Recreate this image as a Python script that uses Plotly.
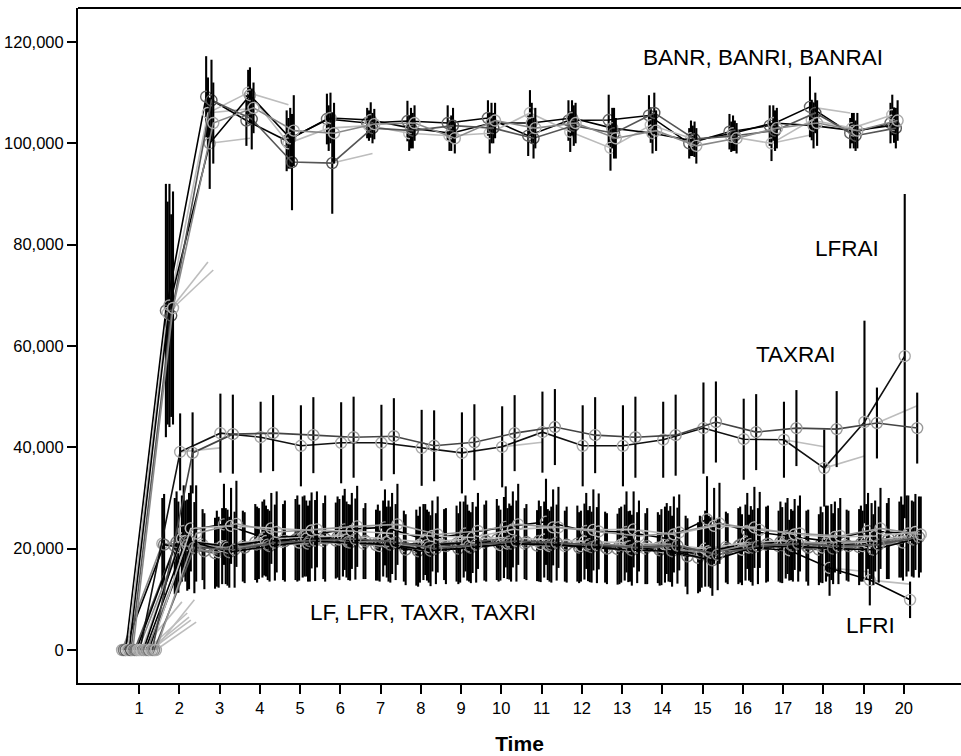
import plotly.graph_objects as go

# ---------------- data (values in thousands) ----------------
times = list(range(1, 21))
y_ticks = [0, 20000, 40000, 60000, 80000, 100000, 120000]

banr_a = [0, 67, 109.2, 104.5, 100.5, 104.8, 104, 104.4, 104, 105, 101.5, 104.5, 104.6, 105.5, 100, 102.3, 103.5, 107.2, 102, 104]
banr_a_err = [0, 25, 8, 5, 6, 5, 3, 4, 3.5, 3.5, 4, 4, 5, 4, 3, 3.5, 4, 6, 3, 4]
banr_b = [0, 66.5, 106, 110, 100, 103, 103.5, 102, 101.5, 102, 106, 102.3, 99.1, 103.6, 101, 101.3, 100, 104.6, 103, 105.6]
banr_b_err = [0, 22, 7, 4.5, 5, 4.5, 3, 3.5, 3, 4, 4.5, 4, 4.5, 3.5, 3.5, 3, 3.5, 4, 3, 4]
banri_a = [0, 68, 100, 109.5, 101, 105, 104.6, 103, 102, 104, 104, 105, 103, 102, 100.5, 102, 104, 103.5, 102.5, 103.6]
banri_a_err = [0, 24, 9, 5.5, 6, 5, 3.5, 4, 3.5, 4, 4, 3.5, 4, 4, 3, 3.5, 3.5, 4.5, 3.5, 3.5]
banri_b = [0, 66, 108.5, 104.8, 96.3, 96.1, 103, 102.5, 103.5, 103, 101, 103.5, 102, 106, 100.8, 101.5, 102.5, 106, 101.5, 103]
banri_b_err = [0, 20, 8, 6, 9.5, 10, 3, 3.5, 3.5, 3, 4, 4, 5, 4, 3.5, 3, 4, 4, 3, 4]
banrai = [0, 67.5, 104, 107, 102.5, 102, 103.8, 104, 101, 104.5, 103, 104, 101, 102.5, 99.5, 101, 103, 104, 102.5, 104.5]
banrai_err = [0, 23, 8, 5, 7, 6, 3, 3.5, 3, 3.5, 4, 4, 4, 4, 3.5, 3, 4, 4.5, 3.5, 4]

lfrai = [0, 39.1, 42.8, 42, 40.3, 40.9, 40.9, 39.9, 38.9, 40.1, 43, 40.3, 40.3, 41.5, 43.8, 41.6, 41.5, 35.9, 45, 58]
lfrai_err = [0, 7.6, 7.8, 7, 8, 8, 7.5, 7.5, 8, 8, 8, 8, 8, 7.5, 9, 8, 7.5, 7.6, 20, 32]
taxrai = [0, 38.9, 42.6, 42.8, 42.4, 42, 42.2, 40.3, 41, 42.8, 44, 42.4, 42, 42.4, 45, 43, 43.8, 43.6, 44.8, 43.8]
taxrai_err = [0, 8, 7.8, 7.5, 7.5, 8, 7.5, 7, 7.5, 7.5, 7.5, 7.5, 8, 8, 8, 7.5, 7.5, 7.5, 7, 7]
lfri = [0, 21.5, 20.5, 21.5, 22, 21.8, 21.3, 20.7, 21.2, 21, 20.8, 20.6, 20.4, 20.5, 19.5, 20.2, 19.7, 16.2, 13.8, 9.9]
lfri_err = [0, 8, 7.5, 7, 7.5, 7.5, 7, 7, 7.5, 7, 7, 7, 7, 7, 7, 6.5, 6, 5.5, 5, 3.6]

lf_a = [0, 23.5, 24.8, 22.2, 22.5, 23.8, 24.2, 21.8, 23, 24.3, 25.3, 23.5, 23.3, 22, 25.8, 23.5, 22.5, 21.5, 23.5, 23]
lf_a_err = [0, 9, 8, 7.5, 8, 8, 7.5, 7, 7.5, 8, 8.5, 7.5, 8, 7, 8.5, 7.5, 7.5, 7, 7.5, 7.5]
lf_b = [0, 24, 24.5, 24, 23.6, 23.5, 23, 22.5, 22.2, 23.8, 24.2, 23.7, 23.8, 22.8, 24.5, 24.2, 22.8, 22.3, 22.5, 23.3]
lf_b_err = [0, 8.5, 7.5, 7, 7.5, 7.5, 8, 7, 7, 7.5, 7.5, 8, 7.5, 7.5, 7.5, 8, 7, 7, 7, 7.5]
lf_c = [0, 23, 24.9, 23.3, 23.8, 24.4, 24.8, 22.8, 23.5, 24.8, 24.2, 23.4, 22.5, 23.2, 25, 23.7, 23, 22.5, 24, 22.8]
lf_c_err = [0, 9.5, 8.5, 8, 7.5, 8, 8, 7.5, 7.5, 8, 8, 7.5, 7, 7.5, 8, 7.5, 7.5, 7.5, 8, 7.5]
lfr_a = [0, 21, 20.8, 20.5, 21.3, 21.5, 21, 20.5, 20.8, 21.2, 21, 20.5, 20.3, 20, 19.5, 20.3, 20.8, 20.5, 20.7, 21.5]
lfr_a_err = [0, 9, 7, 7, 7.5, 7.5, 7, 7, 7, 7.5, 7, 7, 7, 7, 7, 7, 7.5, 7, 7, 7.5]
lfr_b = [0, 20.8, 19.5, 20.2, 21.5, 22, 21.5, 19.8, 20.5, 21.5, 21.3, 20.8, 20, 20.5, 18.5, 20, 21, 20.2, 20.5, 22]
lfr_b_err = [0, 10, 7.5, 7, 8, 8.5, 7.5, 7, 7.5, 8, 7.5, 7.5, 7, 7.5, 7.5, 7, 7.5, 7.5, 7, 8]
taxr_a = [0, 20.5, 19.1, 21.3, 21.8, 21.6, 20.7, 20.2, 21, 21.8, 20.6, 21, 19.9, 20.2, 18.2, 20.5, 20.5, 19.8, 20.3, 21.8]
taxr_a_err = [0, 9.5, 7, 7.5, 8, 7.5, 7, 7.5, 7.5, 8, 7, 7.5, 7, 7, 7, 7.5, 7, 7, 7.5, 7.5]
taxr_b = [0, 21.3, 20, 20.8, 22, 22.3, 21.2, 19.5, 20, 21, 21.5, 20.2, 20.5, 19.7, 19, 20.8, 21.3, 20.8, 21, 22.3]
taxr_b_err = [0, 10, 7.5, 7.5, 8.5, 8, 7.5, 7, 7, 7.5, 8, 7, 7.5, 7, 7.5, 7.5, 8, 7.5, 7.5, 8]
taxr_c = [0, 20.3, 19.3, 21, 21.2, 21.8, 20.5, 20.8, 21.3, 20.7, 20.9, 20.5, 20.8, 20.3, 19.3, 19.8, 20.7, 20.2, 20.5, 21.2]
taxr_c_err = [0, 9, 7, 7, 7.5, 8, 7, 7.5, 8, 7, 7.5, 7, 7.5, 7.5, 7, 7, 7.5, 7, 7, 7.5]
taxri_a = [0, 22, 20.5, 21.8, 22.3, 22.5, 22, 21.3, 21.8, 22.2, 21.8, 21.4, 21.2, 20.8, 20, 21.2, 21.6, 21, 21.3, 22.5]
taxri_a_err = [0, 8.5, 7.5, 7.5, 8, 8, 7.5, 7.5, 7.5, 8, 7.5, 7.5, 7.5, 7.5, 7.5, 7.5, 7.5, 7.5, 7.5, 8]
taxri_b = [0, 21.5, 19.3, 20.5, 21.5, 21.2, 20.8, 19.6, 20.2, 21, 20.8, 20.3, 19.7, 19.5, 17.7, 20.2, 20.5, 20, 19.8, 21.8]
taxri_b_err = [0, 9.5, 7, 7, 8, 7.5, 7.5, 7, 7, 7.5, 7.5, 7, 7, 7, 7, 7.5, 7, 7, 7, 7.5]
taxri_c = [0, 20.2, 19.8, 21.2, 21.6, 21.9, 21.3, 20, 20.8, 21.5, 21.2, 20.7, 20.2, 20.6, 18.8, 20.5, 21, 20.5, 20.8, 22.3]
taxri_c_err = [0, 9, 7.5, 7.5, 8, 8, 7.5, 7, 7.5, 8, 7.5, 7.5, 7, 7.5, 7, 7.5, 7.5, 7.5, 7.5, 8]
lf_d = [0, 20.7, 20.2, 20.8, 21, 21.3, 21.5, 20.3, 20.5, 21.4, 20.5, 20.9, 20.5, 20.9, 19.2, 20.9, 20.8, 21.3, 21.5, 22]
lf_d_err = [0, 9, 7.5, 7, 7.5, 7.5, 8, 7, 7, 7.5, 7, 7.5, 7, 7.5, 7, 7.5, 7, 7.5, 7.5, 7.5]

# short unmarked segments: (start time, value reached one step later)
banr_b_ghost = [(2, 76.6), (3, 106.8), (4, 107.6), (17, 101.7)]
banri_a_ghost = [(3, 101)]
banri_b_ghost = [(6, 98)]
banrai_ghost = [(2, 75)]
banr_a_ghost = [(18, 106)]
lfrai_ghost = [(2, 39.9), (10, 41), (17, 40.1), (18, 38.3)]
taxrai_ghost = [(19, 48.2)]
lfri_ghost = [(18, 15.4), (19, 13.0)]
taxri_a_ghost = [(1, 9.5)]
lf_d_ghost = [(1, 7.3)]
taxri_b_ghost = [(1, 6.5)]
taxri_c_ghost = [(1, 9.9)]
lf_c_ghost = [(1, 5.5)]
lf_b_ghost = [(1, 5.9)]

labels = ["BANR, BANRI, BANRAI", "LFRAI", "TAXRAI", "LF, LFR, TAXR, TAXRI", "LFRI"]
label_t = [16.5, 18.59, 17.32, 8.05, 19.16]
label_v = [117000, 79300, 58400, 7500, 4900]

# ---------------- styling ----------------
K = 1000
series = [
    # name, mean, err, ghost, slot, line colour, marker colour
    ("LFR a", lfr_a, lfr_a_err, None, 0, "#888888", "#aaaaaa"),
    ("LFR b", lfr_b, lfr_b_err, None, 1, "#000000", "#777777"),
    ("BANR a", banr_a, banr_a_err, banr_a_ghost, 2, "#000000", "#666666"),
    ("BANR b", banr_b, banr_b_err, banr_b_ghost, 3, "#bbbbbb", "#bbbbbb"),
    ("BANRI a", banri_a, banri_a_err, banri_a_ghost, 4, "#000000", "#999999"),
    ("BANRI b", banri_b, banri_b_err, banri_b_ghost, 5, "#555555", "#555555"),
    ("BANRAI", banrai, banrai_err, banrai_ghost, 6, "#888888", "#aaaaaa"),
    ("TAXR a", taxr_a, taxr_a_err, None, 7, "#555555", "#888888"),
    ("TAXR b", taxr_b, taxr_b_err, None, 8, "#000000", "#777777"),
    ("TAXR c", taxr_c, taxr_c_err, None, 9, "#888888", "#aaaaaa"),
    ("LFRAI", lfrai, lfrai_err, lfrai_ghost, 10, "#111111", "#aaaaaa"),
    ("TAXRI a", taxri_a, taxri_a_err, taxri_a_ghost, 11, "#bbbbbb", "#bbbbbb"),
    ("LF a", lf_a, lf_a_err, None, 12, "#000000", "#999999"),
    ("LFRI", lfri, lfri_err, lfri_ghost, 13, "#000000", "#aaaaaa"),
    ("LF d", lf_d, lf_d_err, lf_d_ghost, 14, "#888888", "#999999"),
    ("TAXRI b", taxri_b, taxri_b_err, taxri_b_ghost, 15, "#000000", "#777777"),
    ("LF b", lf_b, lf_b_err, lf_b_ghost, 16, "#bbbbbb", "#bbbbbb"),
    ("TAXRAI", taxrai, taxrai_err, taxrai_ghost, 17, "#444444", "#999999"),
    ("TAXRI c", taxri_c, taxri_c_err, taxri_c_ghost, 18, "#555555", "#888888"),
    ("LF c", lf_c, lf_c_err, lf_c_ghost, 19, "#999999", "#aaaaaa"),
]

def slot_offset(k):
    return -0.42 + k * (0.84 / 19)

fig = go.Figure()

# ghost segments (drawn first, underneath)
for name, mean, err, ghost, k, lc, mc in series:
    if not ghost:
        continue
    off = slot_offset(k)
    gx, gy = [], []
    for t, v in ghost:
        i = times.index(t)
        gx += [t + off, t + 1 + off, None]
        gy += [mean[i] * K, v * K, None]
    fig.add_trace(go.Scatter(x=gx, y=gy, mode="lines", showlegend=False,
                             line=dict(color="#bdbdbd", width=1.6), hoverinfo="skip"))

for name, mean, err, ghost, k, lc, mc in series:
    off = slot_offset(k)
    xs = [t + off for t in times]
    ys = [v * K for v in mean]
    es = [e * K for e in err]
    fig.add_trace(go.Scatter(
        x=xs, y=ys, name=name, mode="lines+markers", showlegend=False,
        line=dict(color=lc, width=1.6),
        marker=dict(symbol="circle-open", size=11, color=mc, line=dict(width=1.4)),
        error_y=dict(type="data", array=es, visible=True, color="#000000",
                     thickness=2.1, width=0),
    ))

for txt, t, v in zip(labels, label_t, label_v):
    fig.add_annotation(x=t, y=v, text=txt, showarrow=False,
                       font=dict(size=22.5, color="#000000", family="Liberation Sans, Arial"))

# top frame line (no right border in the original)
fig.add_shape(type="line", xref="paper", yref="paper", x0=0, x1=1, y0=1, y1=1,
              line=dict(color="#000000", width=2))

fig.update_layout(
    width=961, height=756,
    margin=dict(l=78, r=0, t=8, b=73),
    plot_bgcolor="white", paper_bgcolor="white",
    font=dict(family="Liberation Sans, Arial", color="#000000", size=16.5),
    showlegend=False,
)
fig.update_xaxes(
    range=[-0.515, 21.42], tickmode="array", tickvals=times,
    ticktext=[str(t) for t in times],
    ticks="outside", ticklen=9, tickwidth=1.6, tickcolor="#000000",
    showline=True, linewidth=2, linecolor="#000000", mirror=False,
    showgrid=False, zeroline=False,
    tickfont=dict(size=16.5),
    title=dict(text="<b>Time</b>", font=dict(size=21), standoff=21),
)
fig.update_yaxes(
    range=[-6513, 126710], tickmode="array", tickvals=y_ticks, tickformat=",",
    ticks="outside", ticklen=9, tickwidth=1.6, tickcolor="#000000",
    showline=True, linewidth=2, linecolor="#000000", mirror=False,
    showgrid=False, zeroline=False,
    tickfont=dict(size=16.5),
)

fig.write_html("out.html")
